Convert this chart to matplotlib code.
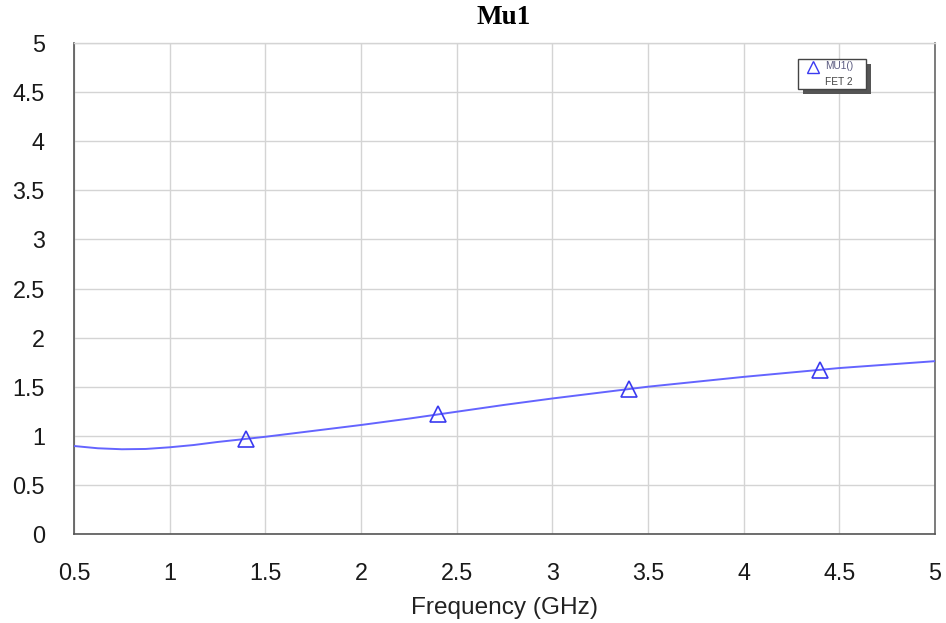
import matplotlib
matplotlib.use("Agg")
import matplotlib.pyplot as plt
from matplotlib.patches import Rectangle
from matplotlib.lines import Line2D

freq = [0.5, 0.625, 0.75, 0.875, 1.0, 1.125, 1.25, 1.5, 1.75, 2.0, 2.25, 2.5, 2.75, 3.0, 3.25, 3.5, 3.75, 4.0, 4.25, 4.5, 4.75, 5.0]
mu1 = [0.896, 0.873, 0.863, 0.866, 0.883, 0.906, 0.937, 0.99, 1.05, 1.11, 1.175, 1.245, 1.315, 1.38, 1.44, 1.50, 1.55, 1.60, 1.645, 1.69, 1.725, 1.76]
marker_freq = [1.4, 2.4, 3.4, 4.4]
marker_mu1 = [0.965, 1.22, 1.48, 1.675]
xticks = [0.5, 1, 1.5, 2, 2.5, 3, 3.5, 4, 4.5, 5]
xticklabels = ["0.5", "1", "1.5", "2", "2.5", "3", "3.5", "4", "4.5", "5"]
yticks = [0, 0.5, 1, 1.5, 2, 2.5, 3, 3.5, 4, 4.5, 5]
yticklabels = ["0", "0.5", "1", "1.5", "2", "2.5", "3", "3.5", "4", "4.5", "5"]

plt.rcParams['font.family'] = ['Liberation Sans', 'DejaVu Sans']

fig = plt.figure(figsize=(9.46, 6.23), dpi=100)
ax = fig.add_axes([74/946, 1 - 534/623, (935 - 74)/946, (534 - 43)/623])

line_color = '#6464ff'
ax.plot(freq, mu1, color=line_color, lw=1.4, zorder=3)
ax.plot(marker_freq, marker_mu1, linestyle='none', marker='^', markersize=11,
        markerfacecolor='none', markeredgecolor='#3a3af0', markeredgewidth=1.2, zorder=4)

ax.set_xlim(0.5, 5)
ax.set_ylim(0, 5)
ax.set_xticks(xticks)
ax.set_xticklabels(xticklabels)
ax.set_yticks(yticks)
ax.set_yticklabels(yticklabels)
ax.tick_params(axis='both', length=0, labelsize=16.8, colors='#1a1a1a')
ax.tick_params(axis='x', pad=20)
ax.tick_params(axis='y', pad=21)
ax.grid(True, color='#d4d4d4', lw=1.0)
ax.set_axisbelow(True)
for s in ['left', 'bottom']:
    ax.spines[s].set_color('#555555')
    ax.spines[s].set_linewidth(1.2)
ax.spines['right'].set_color('#666666')
ax.spines['right'].set_linewidth(1.2)
ax.spines['top'].set_color('#d4d4d4')
ax.spines['top'].set_linewidth(1.0)

ax.set_xlabel("Frequency (GHz)", fontsize=17.6, color='#222222', labelpad=8.5)
fig.text(504/946, 1 - 17/623, "Mu1", ha='center', va='center',
         fontsize=19.5, fontweight='bold', family=['Liberation Serif', 'DejaVu Serif'])

# legend box with shadow
lx0, ly0, lw, lh = 798/946, 1 - 89/623, 68/946, 30/623
shadow = Rectangle((lx0 + 5/946, ly0 - 5/623), lw, lh, transform=fig.transFigure,
                   facecolor='#555555', edgecolor='none', zorder=5)
box = Rectangle((lx0, ly0), lw, lh, transform=fig.transFigure,
                facecolor='white', edgecolor='#444444', lw=1.0, zorder=6)
fig.patches.extend([shadow, box])
fig.lines.append(Line2D([813/946], [1 - 67/623], transform=fig.transFigure, marker='^',
                        markersize=8, markerfacecolor='none', markeredgecolor='#3a3af0',
                        markeredgewidth=1.0, linestyle='none', zorder=7))
fig.text(825/946, 1 - 66/623, "MU1()", fontsize=7.3, color='#5a5a80', va='center', ha='left', zorder=7)
fig.text(825/946, 1 - 82/623, "FET 2", fontsize=7.3, color='#444444', va='center', ha='left', zorder=7)

fig.savefig("out.png", dpi=100)
